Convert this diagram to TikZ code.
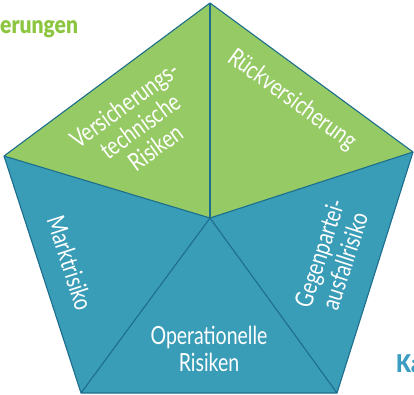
\documentclass[tikz,border=0pt]{standalone}
\usepackage{fontspec}
\newfontfamily\labfont[FakeStretch=0.78]{Lato}
\newfontfamily\headfont[FakeStretch=0.86]{Lato Bold}
\definecolor{segGreen}{HTML}{96CA64}
\definecolor{segBlue}{HTML}{3A9DB8}
\definecolor{edgeCol}{HTML}{1C6E8C}
\definecolor{headGreen}{HTML}{8CC540}
\definecolor{headBlue}{HTML}{3A9DC1}
\tikzset{
  seglabel/.style={text=white, align=center, inner sep=0pt, font=\labfont\fontsize{25}{26.5}\selectfont},
  headlabel/.style={inner sep=0pt, font=\headfont\bfseries\fontsize{24.5}{26}\selectfont},
  segedge/.style={draw=edgeCol, line width=1.1pt, line join=round}
}
\begin{document}
\begin{tikzpicture}[x=1pt,y=-1pt]
\useasboundingbox (0,0) rectangle (414,394);
\coordinate (T) at (210,3);
\coordinate (R) at (413,152);
\coordinate (BR) at (337,393);
\coordinate (BL) at (81,393);
\coordinate (L) at (4,156);
\coordinate (C) at (210,218);
\fill[segGreen] (L) -- (T) -- (C) -- cycle;
\fill[segGreen] (T) -- (R) -- (C) -- cycle;
\fill[segBlue] (R) -- (BR) -- (C) -- cycle;
\fill[segBlue] (BR) -- (BL) -- (C) -- cycle;
\fill[segBlue] (BL) -- (L) -- (C) -- cycle;
\draw[segedge] (T) -- (R) -- (BR) -- (BL) -- (L) -- cycle;
\draw[segedge] (C) -- (T);
\draw[segedge] (C) -- (R);
\draw[segedge] (C) -- (BR);
\draw[segedge] (C) -- (BL);
\draw[segedge] (C) -- (L);
\node[seglabel, rotate=36] (vt) at (140,126) {Versicherungs-\\technische\\Risiken};
\node[seglabel, rotate=-36] (rv) at (292,100) {Rückversicherung};
\node[seglabel, rotate=-72] (mr) at (70,263) {Marktrisiko};
\node[seglabel, rotate=72] (ga) at (332,257) {Gegenpartei-\\ausfallrisiko};
\node[seglabel] (or) at (209,349) {Operationelle\\Risiken};
\node[headlabel, text=headGreen, anchor=base west] (hv) at (0,33) {erungen};
\node[headlabel, text=headBlue, anchor=base west] (hk) at (396,372) {Ka};
\end{tikzpicture}
\end{document}
